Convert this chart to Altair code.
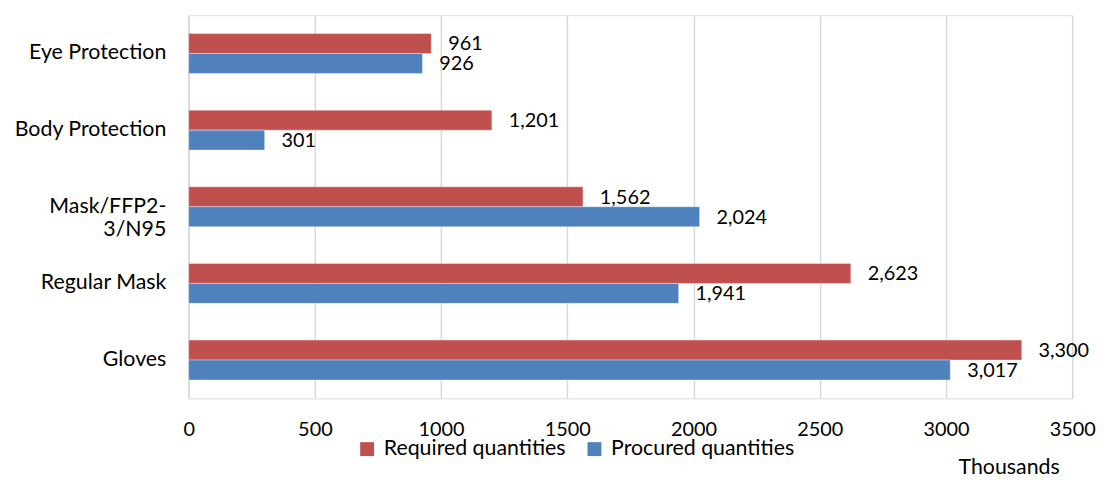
import altair as alt
import pandas as pd

categories = ["Eye Protection", "Body Protection", "Mask/FFP2-3/N95", "Regular Mask", "Gloves"]
series = ["Required quantities", "Procured quantities"]
required = [961, 1201, 1562, 2623, 3300]
procured = [926, 301, 2024, 1941, 3017]
x_ticks = [0, 500, 1000, 1500, 2000, 2500, 3000, 3500]
colors = ["#C0504D", "#4F81BD"]

rows = []
for c, r, p in zip(categories, required, procured):
    rows.append({"category": c, "series": series[0], "value": r})
    rows.append({"category": c, "series": series[1], "value": p})
df = pd.DataFrame(rows)

FONT = "Lato"
WORD_SIZE = 21.5
NUM_SIZE = 20
nb = "\u00a0" * 6
label_expr = (
    "datum.value == 'Mask/FFP2-3/N95' ? ['Mask/FFP2-', '3/N95" + nb + "'] : datum.value"
)

y_enc = alt.Y(
    "category:N",
    sort=categories,
    scale=alt.Scale(paddingInner=0.48, paddingOuter=0.24),
    axis=alt.Axis(
        title=None,
        ticks=False,
        domain=True,
        domainColor="#d9d9d9",
        domainWidth=1.5,
        labelFont=FONT,
        labelFontSize=WORD_SIZE,
        labelColor="#000000",
        labelPadding=23,
        labelLineHeight=23,
        labelExpr=label_expr,
        labelLimit=300,
        grid=False,
    ),
)
yoff = alt.YOffset("series:N", sort=series, scale=alt.Scale(paddingInner=0, paddingOuter=0))

x_enc = alt.X(
    "value:Q",
    scale=alt.Scale(domain=[0, 3500], nice=False),
    axis=alt.Axis(
        values=x_ticks,
        format="d",
        title="Thousands",
        titleFont=FONT,
        titleFontSize=WORD_SIZE,
        titleFontWeight="normal",
        titleColor="#000000",
        titleX=826,
        titleY=76,
        titleAlign="center",
        titleBaseline="alphabetic",
        labelFont=FONT,
        labelFontSize=NUM_SIZE,
        labelColor="#000000",
        labelPadding=21,
        labelFlush=False,
        ticks=False,
        domain=False,
        grid=True,
        gridColor="#d9d9d9",
        gridWidth=1.5,
    ),
)

bars = alt.Chart(df).mark_bar(stroke="white", strokeWidth=0.6, strokeOpacity=0.6).encode(
    y=y_enc,
    yOffset=yoff,
    x=x_enc,
    color=alt.Color(
        "series:N",
        sort=series,
        scale=alt.Scale(domain=series, range=colors),
        legend=alt.Legend(
            title=None,
            orient="none",
            legendX=169,
            legendY=426,
            direction="horizontal",
            symbolType="square",
            symbolSize=196,
            symbolStrokeWidth=0,
            labelFont=FONT,
            labelFontSize=WORD_SIZE,
            labelColor="#000000",
            labelOffset=6,
            columnPadding=18,
            labelLimit=400,
        ),
    ),
)

labels = alt.Chart(df).mark_text(
    align="left", baseline="middle", dx=17, dy=1, font=FONT, fontSize=NUM_SIZE, color="#000000"
).encode(
    y=alt.Y("category:N", sort=categories),
    yOffset=alt.YOffset("series:N", sort=series),
    x=alt.X("value:Q"),
    text=alt.Text("value:Q", format=",.0f"),
)

chart = (
    alt.layer(bars, labels)
    .properties(
        width=890,
        height=386,
        autosize=alt.AutoSizeParams(type="none"),
        padding={"left": 182, "top": 5.5, "right": 27, "bottom": 80},
    )
    .configure_view(stroke=None)
    .configure(background="white")
)

chart.save("out.html", embed_options={"renderer": "svg", "actions": False})
